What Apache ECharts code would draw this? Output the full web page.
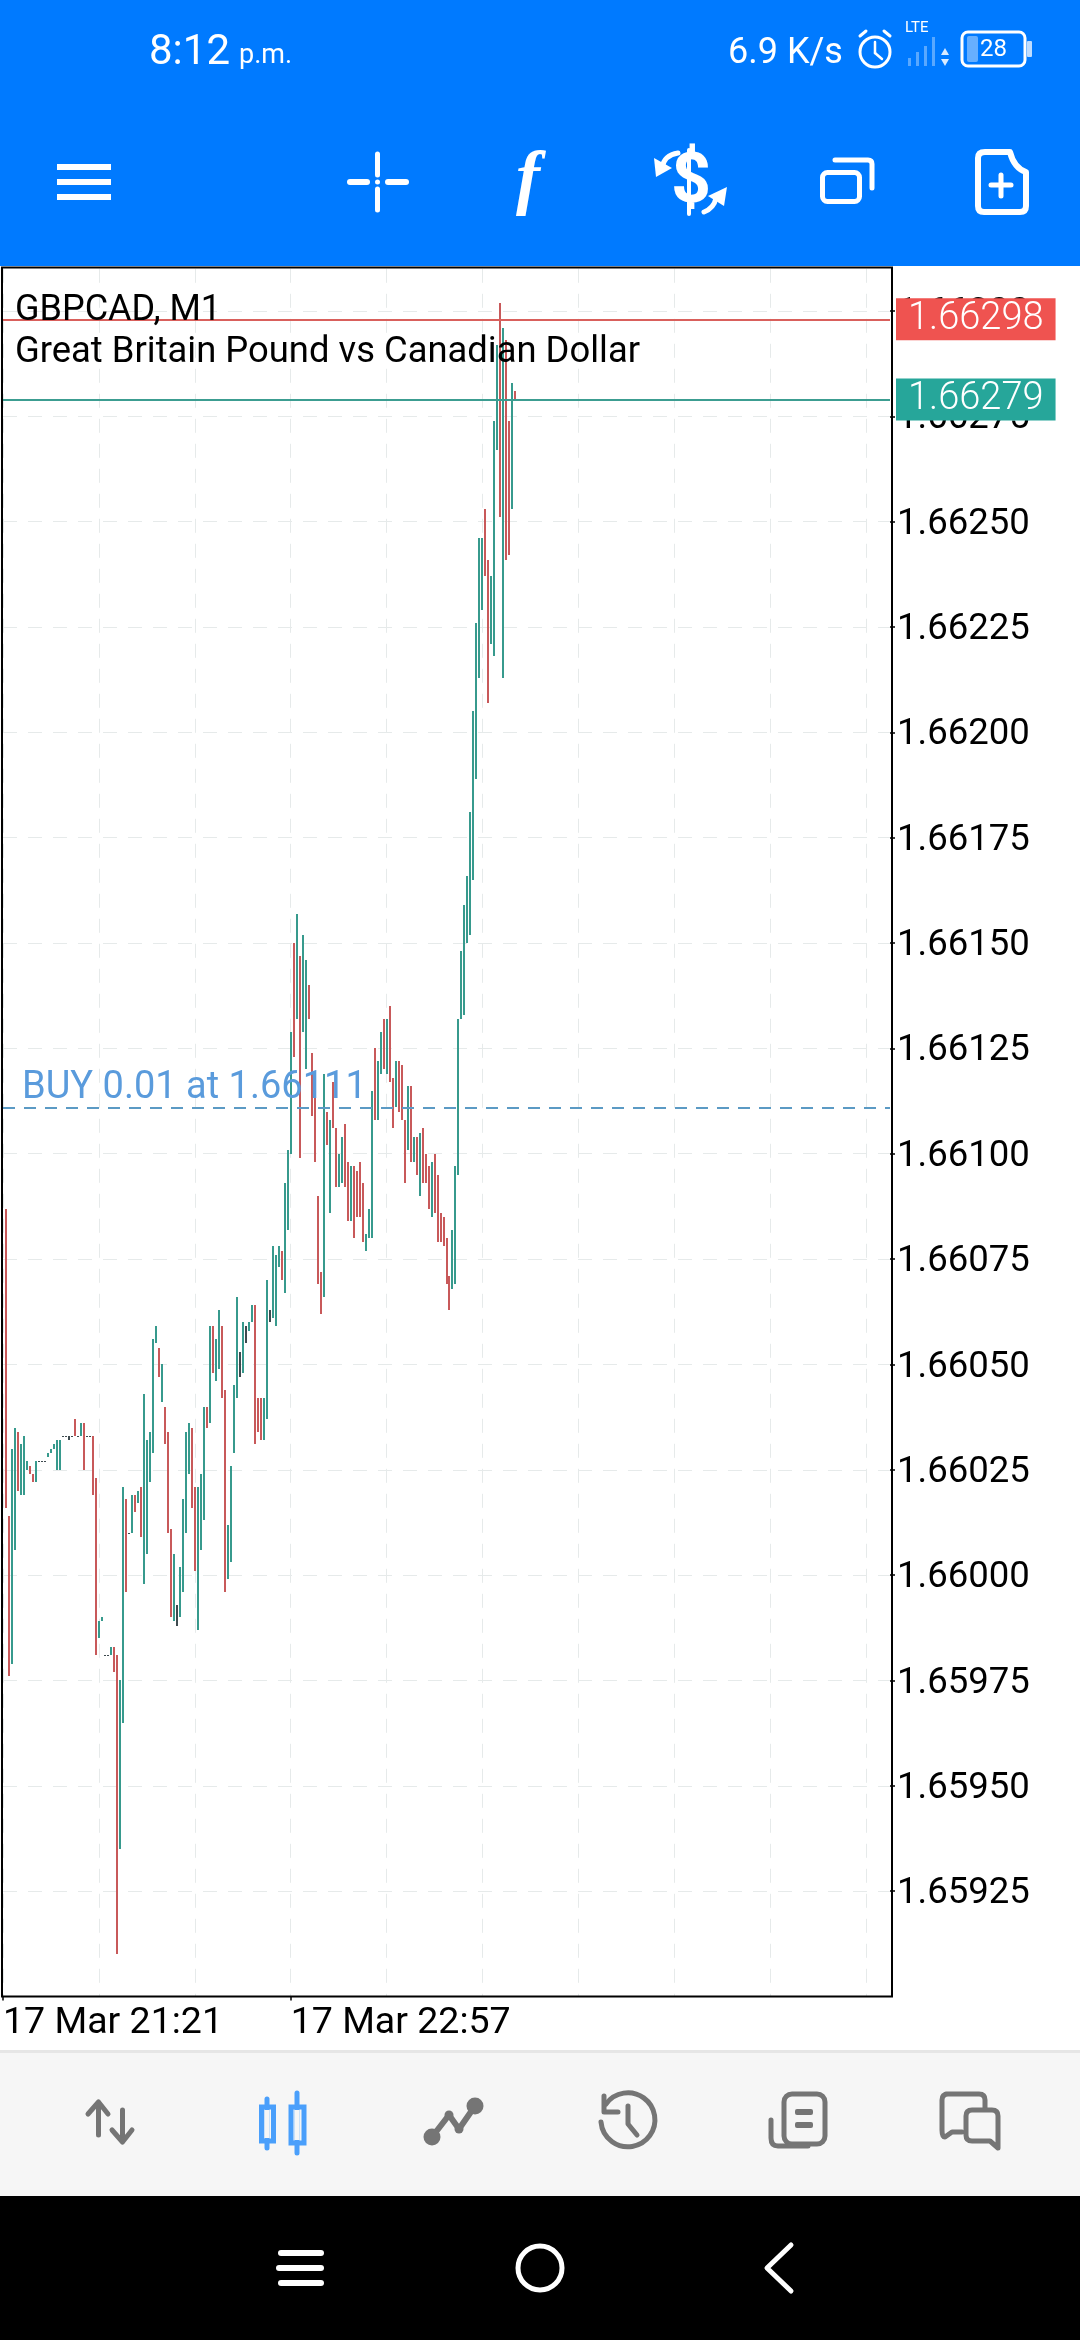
<!DOCTYPE html>
<html><head><meta charset="utf-8">
<style>html,body{margin:0;padding:0;background:#fff}#c{width:1080px;height:2340px}</style>
<script src="https://cdn.jsdelivr.net/npm/echarts@6/dist/echarts.min.js"></script>
</head><body><div id="c"></div>
<script>
const symbolName = 'GBPCAD, M1';
const symbolDesc = 'Great Britain Pound vs Canadian Dollar';
const bidPrice = 1.66298, askPrice = 1.66279, buyPrice = 1.66111;
const buyLabel = 'BUY 0.01 at 1.66111';
const xTickLabels = {0:'17 Mar 21:21', 96:'17 Mar 22:57'};
const priceTicks = [1.65925,1.65950,1.65975,1.66000,1.66025,1.66050,1.66075,1.66100,1.66125,1.66150,1.66175,1.66200,1.66225,1.66250,1.66275,1.66300];
const highs = [null,
1.66087,1.66014,1.66030,1.66035,1.66034,1.66031,1.66033,1.66027,1.66026,1.66024,
1.66027,1.66027,1.66027,1.66027,1.66029,1.66030,1.66031,1.66032,1.66032,1.66033,
1.66033,1.66033,1.66033,1.66037,1.66033,1.66036,1.66036,1.66033,1.66033,1.66033,
1.66023,1.65989,1.65990,1.65981,1.65981,1.65983,1.65983,1.65981,1.65975,1.66021,
1.66018,1.66010,1.66019,1.66019,1.66020,1.66021,1.66043,1.66032,1.66034,1.66056,
1.66059,1.66054,1.66050,1.66040,1.66034,1.66011,1.66005,1.65993,1.66002,1.66018,
1.66034,1.66036,1.66035,1.66021,1.66021,1.66024,1.66040,1.66040,1.66059,1.66059,
1.66056,1.66063,1.66059,1.66044,1.66012,1.66026,1.66045,1.66066,1.66053,1.66060,
1.66059,1.66060,1.66064,1.66064,1.66042,1.66042,1.66042,1.66070,1.66063,1.66078,
1.66076,1.66078,1.66077,1.66093,1.66101,1.66129,1.66150,1.66157,1.66147,1.66152,
1.66146,1.66140,1.66124,1.66117,1.66090,1.66072,1.66119,1.66110,1.66108,1.66117,
1.66106,1.66100,1.66104,1.66107,1.66098,1.66097,1.66097,1.66096,1.66098,1.66093,
1.66081,1.66087,1.66115,1.66125,1.66122,1.66129,1.66132,1.66132,1.66135,1.66118,
1.66122,1.66122,1.66121,1.66108,1.66116,1.66116,1.66104,1.66104,1.66105,1.66106,
1.66100,1.66097,1.66098,1.66100,1.66095,1.66086,1.66085,1.66080,1.66071,1.66082,
1.66097,1.66132,1.66148,1.66159,1.66166,1.66181,1.66205,1.66226,1.66246,1.66246,
1.66253,1.66241,1.66237,1.66274,1.66292,1.66302,1.66296,1.66293,1.66274,1.66283,
1.66281];
const lows = [null,
1.66016,1.65976,1.65979,1.66006,1.66020,1.66019,1.66019,1.66025,1.66024,1.66022,
1.66022,1.66027,1.66027,1.66027,1.66028,1.66029,1.66030,1.66025,1.66025,1.66033,
1.66033,1.66032,1.66033,1.66033,1.66033,1.66033,1.66025,1.66033,1.66033,1.66019,
1.65981,1.65985,1.65989,1.65981,1.65981,1.65981,1.65977,1.65910,1.65935,1.65965,
1.65996,1.66010,1.66010,1.66015,1.66017,1.66009,1.65998,1.66005,1.66022,1.66029,
1.66055,1.66047,1.66041,1.66031,1.66010,1.65990,1.65989,1.65988,1.65990,1.65996,
1.66010,1.66024,1.66016,1.66001,1.65987,1.66006,1.66013,1.66035,1.66036,1.66048,
1.66046,1.66049,1.66042,1.65996,1.65999,1.66003,1.66029,1.66042,1.66047,1.66048,
1.66055,1.66058,1.66060,1.66031,1.66034,1.66032,1.66032,1.66037,1.66060,1.66061,
1.66059,1.66073,1.66070,1.66067,1.66082,1.66100,1.66123,1.66132,1.66099,1.66129,
1.66120,1.66132,1.66109,1.66098,1.66069,1.66062,1.66066,1.66102,1.66086,1.66106,
1.66092,1.66092,1.66093,1.66092,1.66084,1.66084,1.66080,1.66085,1.66085,1.66079,
1.66077,1.66080,1.66080,1.66108,1.66108,1.66119,1.66120,1.66119,1.66117,1.66106,
1.66111,1.66110,1.66108,1.66093,1.66101,1.66098,1.66098,1.66095,1.66090,1.66093,
1.66093,1.66087,1.66085,1.66086,1.66079,1.66079,1.66078,1.66069,1.66063,1.66068,
1.66069,1.66095,1.66132,1.66133,1.66150,1.66152,1.66165,1.66189,1.66213,1.66229,
1.66237,1.66207,1.66221,1.66218,1.66267,1.66251,1.66213,1.66241,1.66242,1.66253,
1.66279];
// r = falling, g = rising, d = open equals close with a range, f = flat
const dirs =
'-rrggrgggrr'+
'gfffgggggf'+
'fdfrfgrffr'+
'rggffgrrgg'+
'rfgrgrgggg'+
'grgrrrgdgg'+
'ggrrgggrgr'+
'ggrrggggdg'+
'dggrrrggdg'+
'ggrgggrgrg'+
'grrrrrgrgr'+
'rggrrgrrrr'+
'gggrggrgrr'+
'grrrgrgrgr'+
'rrgrrrrrrg'+
'gggggggggg'+
'rrgggrgrrg'+
'r';

const CATS = [];
for (let i = 0; i < 297; i++) CATS.push(xTickLabels[i] || String(i));

const GREEN='#379a8d', RED='#c8595a', DARK='#3e4a4f';
const barData = [];
highs.forEach((h,i)=>{ if (h !== null) barData.push([i, lows[i], h]); });
const barColor = {g:GREEN, r:RED, d:DARK, f:DARK};
function renderBar(params, api){
  const i = api.value(0);
  const x = api.coord([i, api.value(1)])[0];
  const yLow = api.coord([i, api.value(1)])[1];
  const yHigh = api.coord([i, api.value(2)])[1];
  const top = Math.round(yHigh);
  return {type:'rect',
    shape:{x:Math.round(x)-1, y:top, width:2, height:Math.max(1, Math.round(yLow)-top)},
    style:{fill:barColor[dirs[i]]}};
}

const FONT='Roboto';
const W='#ffffff', G='#757575', BL='#4a9ffb';
let pathCount = 0;
function ln(x1,y1,x2,y2,stroke,w){return {type:'line',silent:true,shape:{x1,y1,x2,y2},style:{stroke,lineWidth:w,lineCap:'round'}};}
function rc(x,y,width,height,fill,r){return {type:'rect',silent:true,shape:{x,y,width,height,r:r||0},style:{fill}};}
function srect(x,y,width,height,stroke,w,r){return {type:'rect',silent:true,shape:{x,y,width,height,r:r||0},style:{fill:'none',stroke,lineWidth:w}};}
function tx(x,y,text,size,fill,extra){return {type:'text',silent:true,x,y,style:Object.assign({text,fontFamily:FONT,fontSize:size,fill,verticalAlign:'middle',align:'left'},extra||{})};}
function pth(d,stroke,w,fill){
  const name='iconPath'+(pathCount++);
  echarts.graphic.registerShape(name, echarts.graphic.extendPath(d,{}));
  return {type:name,silent:true,style:{stroke,lineWidth:w,fill:fill||'none',lineCap:'round',lineJoin:'round'}};
}
function poly(points,fill){return {type:'polygon',silent:true,shape:{points},style:{fill}};}
function circ(cx,cy,r,fill){return {type:'circle',silent:true,shape:{cx,cy,r},style:{fill}};}
function scirc(cx,cy,r,stroke,w){return {type:'circle',silent:true,shape:{cx,cy,r},style:{fill:'none',stroke,lineWidth:w}};}

const chrome = [
  rc(0,0,1080,266,'#007aff'),
  rc(0,1998,1080,52,'#ffffff'),
  rc(0,2050,1080,3,'#e6e6e6'),
  rc(0,2053,1080,143,'#f6f6f6'),
  rc(0,2196,1080,144,'#000000')
];
const icons = [
  // status bar
  tx(149,53,'8:12',42,W),
  tx(239,56,'p.m.',27,W),
  tx(728,54,'6.9 K/s',36,W),
  scirc(875,52,15,W,3), ln(875,42,875,53,W,2.5), ln(875,53,882,59,W,2.5),
  ln(860,36,866,31,W,3), ln(884,31,890,36,W,3),
  tx(905,28,'LTE',15,W),
  rc(908,58,3,8,'rgba(255,255,255,.35)'), rc(916,52,3,14,'rgba(255,255,255,.35)'), rc(924,46,3,20,'rgba(255,255,255,.35)'), rc(932,37,3,29,'rgba(255,255,255,.35)'),
  poly([[941,55],[949,55],[945,48]],'rgba(255,255,255,.85)'), poly([[941,59],[949,59],[945,66]],'rgba(255,255,255,.85)'),
  rc(967,36,11,26,'rgba(255,255,255,.4)',2),
  srect(962,32,63,34,W,3,6), rc(1027,41,5,16,'rgba(255,255,255,.75)',1),
  tx(980,50,'28',24,W),
  // top toolbar
  rc(57,164,54,6,W), rc(57,179,54,6,W), rc(57,194,54,6,W),
  ln(377.5,154,377.5,175,W,5), ln(377.5,189,377.5,210,W,5), ln(350,182,367,182,W,6), ln(388,182,406,182,W,6), circ(377.5,182,2.5,W),
  tx(516,182,'f',72,W,{fontFamily:'Liberation Serif',fontStyle:'italic',fontWeight:'bold'}),
  tx(671,184,'$',70,W,{fontWeight:'bold'}),
  ln(689,150,689,214,W,4),
  pth('M678 153 Q664 155 662 168',W,5),poly([[654,158],[672,168],[656,177]],W),
  pth('M704 212 Q714 208 716 198',W,5),poly([[708,196],[727,187],[724,206]],W),
  srect(822.5,172.5,37,29,W,5,5),
  pth('M835 160 H868 Q872 160 872 164 V188',W,5),
  pth('M985 152 H1010 Q1014 168 1026 172 V206 Q1026 212 1020 212 H984 Q978 212 978 206 V158 Q978 152 985 152 Z',W,6),
  ln(1001,175,1001,196,W,5), ln(991,185,1011,185,W,5),
  // bottom toolbar
  ln(98.5,2104,98.5,2135,G,5), pth('M88 2114 L98.5 2102 L108 2114',G,5),
  ln(122.5,2110,122.5,2140,G,5), pth('M112 2130 L122.5 2142 L132 2130',G,5),
  ln(267,2099,267,2148,BL,5), srect(261.5,2107,12,34,BL,5), 
  ln(297,2093,297,2153,BL,5), srect(291,2107,13,36,BL,5),
  rc(264.5,2110,5,28,'#f6f6f6'), rc(294.5,2110,5,30,'#f6f6f6'),
  pth('M432 2137 L449 2115 L459 2129 L475 2106',G,6), circ(432,2137,8.5,G), circ(475,2106,8.5,G), circ(449,2115,4.5,G), circ(459,2129,4.5,G),
  pth('M606 2104 A27 27 0 1 1 601 2122',G,5),
  pth('M604 2096 V2112 H618',G,5),
  pth('M628 2106 V2124 L637 2135',G,5),
  srect(784,2094,41,50,G,5,8),
  pth('M771 2120 V2138 Q771 2146 778 2146 H808',G,5),
  rc(795,2109,18,6,G,2), rc(795,2122,18,6,G,2),
  pth('M946 2094 H979 Q985 2094 985 2100 V2108 M962 2132 H952 L945 2137 Q942 2137 942 2130 V2100 Q942 2094 948 2094',G,5),
  pth('M972 2110 H992 Q998 2110 998 2116 V2148 L990 2141 H972 Q966 2141 966 2135 V2116 Q966 2110 972 2110 Z',G,5),
  // navigation bar
  rc(278,2250,46,6,W,3), rc(276,2265,48,6,W,3), rc(278,2280,46,6,W,3),
  scirc(540,2268,22,W,5),
  pth('M791 2245 L767 2268 L791 2291',W,5)
];

const tagLabel = (bg, v) => ({show:true,position:'end',distance:6,formatter:()=>v.toFixed(5),color:'#fff',backgroundColor:bg,padding:[3,12,3,12],fontSize:38,fontFamily:FONT,fontWeight:300,lineHeight:36});

const chart = echarts.init(document.getElementById('c'), null, {renderer:'canvas',width:1080,height:2340});
chart.setOption({
  animation:false,
  backgroundColor:'#ffffff',
  textStyle:{fontFamily:FONT},
  grid:{left:2,top:268.8,width:888,height:1727.7,containLabel:false},
  xAxis:{
    type:'category',data:CATS,boundaryGap:false,
    axisLine:{show:false},
    axisTick:{show:true,length:4,lineStyle:{color:'#000',width:1.5},interval:(i)=>xTickLabels[i]!==undefined},
    axisLabel:{interval:(i)=>xTickLabels[i]!==undefined,align:'left',color:'#000',fontFamily:FONT,fontSize:37.5,margin:8,showMinLabel:true,hideOverlap:false},
    splitLine:{show:true,interval:(i)=>i%32===0,lineStyle:{color:'#e6eaea',type:[14,11],width:1}}
  },
  yAxis:{
    type:'value',position:'right',scale:true,min:1.659,max:1.6631,interval:0.00025,
    axisLine:{show:false},
    axisTick:{show:true,length:5,lineStyle:{color:'#000',width:1.5},customValues:priceTicks},
    axisLabel:{color:'#000',fontFamily:FONT,fontSize:36.5,margin:7,customValues:priceTicks,
      formatter:(v)=>'{p|'+v.toFixed(5)+'}',
      rich:{p:{fontFamily:FONT,fontSize:36.5,color:'#000',padding:[6,0,0,0]}}},
    splitLine:{show:true,lineStyle:{color:'#e6eaea',type:[14,11],width:1}}
  },
  series:[{
    type:'custom',name:symbolName,data:barData,
    encode:{x:0,y:[1,2]},
    renderItem:renderBar,clip:true,z:3,
    markLine:{
      silent:true,symbol:'none',animation:false,precision:5,
      data:[
        {yAxis:bidPrice,lineStyle:{color:'#d9605c',width:2,type:'solid'},label:tagLabel('#ef5350',bidPrice)},
        {yAxis:askPrice,lineStyle:{color:'#3c9d91',width:2,type:'solid'},label:tagLabel('#26a69a',askPrice)},
        {yAxis:buyPrice,lineStyle:{color:'#5b9ac4',width:2,type:[12,9]},
         label:{show:true,position:'insideStartTop',distance:0,formatter:()=>buyLabel,color:'#5a9bdc',padding:[0,0,0,19],fontSize:38,fontFamily:FONT}}
      ]
    }
  }],
  graphic:{elements:[
    ...chrome.map(e=>Object.assign(e,{z:-1})),
    ...icons.map(e=>Object.assign(e,{z:20})),
    Object.assign(srect(2,267.5,890,1729,'#000',2),{z:15}),
    Object.assign(tx(15,311,symbolName,36,'#000'),{z:16}),
    Object.assign(tx(15,353,symbolDesc,36.4,'#000'),{z:16})
  ]}
});
</script></body></html>
